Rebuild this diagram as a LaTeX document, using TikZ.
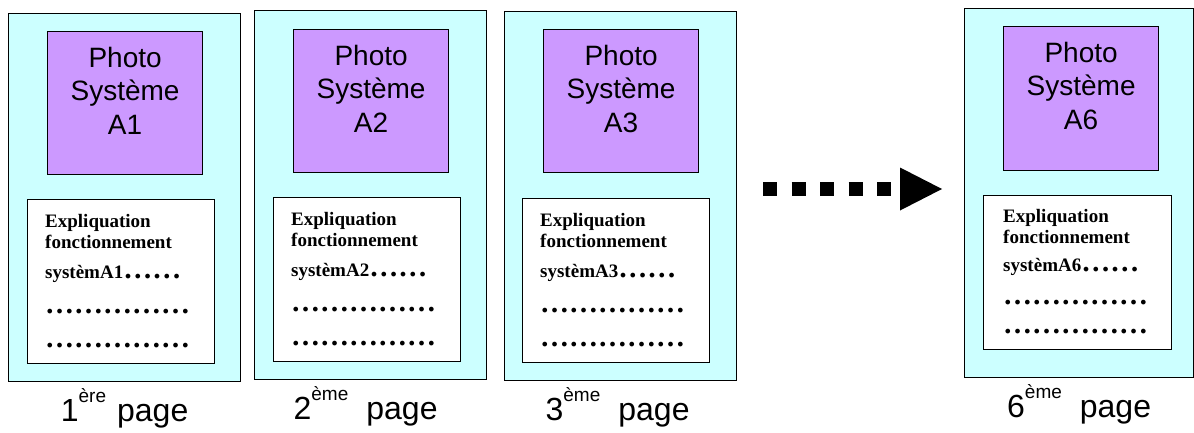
\documentclass[tikz,border=0pt]{standalone}
\usepackage{fontspec}
\setmainfont{Liberation Sans}
\newfontfamily\tnr{Liberation Serif}
\usetikzlibrary{positioning,arrows.meta}
\definecolor{pagecyan}{RGB}{204,255,255}
\definecolor{photoviolet}{RGB}{204,153,255}
\newcommand\pdots[1]{{\fontsize{29}{21}\selectfont #1}}
\newcommand\expo[1]{\raisebox{19pt}{\fontsize{19}{19}\selectfont #1}}

\begin{document}
\begin{tikzpicture}[x=1pt, y=-1pt,
  page/.style={draw, line width=1.2pt, fill=pagecyan, minimum width=232pt,
    minimum height=368pt, anchor=north west, inner sep=0pt},
  photo/.style={draw, line width=1.2pt, fill=photoviolet, minimum width=155pt,
    minimum height=143pt, anchor=north west, inner sep=0pt},
  phototext/.style={align=center, inner sep=0pt, font=\fontsize{28}{33.5}\selectfont},
  expl/.style={draw, line width=1.2pt, fill=white, minimum width=187pt,
    minimum height=164pt, anchor=north west, inner sep=0pt},
  expltext/.style={align=left, inner sep=0pt, font=\tnr\bfseries\fontsize{19}{21}\selectfont},
  pagelabel/.style={anchor=base, inner sep=0pt, font=\fontsize{32}{32}\selectfont},
  dotarrow/.style={line width=14pt, dash pattern=on 14.3pt off 14.2pt,
    -{Triangle[length=42pt,width=43pt,line width=0pt]}}]

\useasboundingbox (0,0) rectangle (1194,433);

\node[page] (p1) at (8,13) {};
\node[photo, below right=18pt and 39pt of p1.north west] (ph1) {};
\node[phototext, below=15.6pt of ph1.north] (tph1) {Photo\\Système\\A1};
\node[expl, below right=186pt and 19pt of p1.north west] (ex1) {};
\node[expltext, below right=15pt and 18pt of ex1.north west] (tex1)
  {Expliquation\\fonctionnement\\[9pt]systèmA1\pdots{……}\\[14pt]\pdots{……………}\\[13pt]\pdots{……………}};
\node[below=39pt of p1.south, pagelabel] (lab1) {1\expo{ère}\hspace{11pt}page};

\node[page, minimum height=369pt] (p2) at (254,10) {};
\node[photo, below right=19pt and 39pt of p2.north west] (ph2) {};
\node[phototext, below=15.6pt of ph2.north] (tph2) {Photo\\Système\\A2};
\node[expl, below right=187pt and 19pt of p2.north west] (ex2) {};
\node[expltext, below right=15pt and 18pt of ex2.north west] (tex2)
  {Expliquation\\fonctionnement\\[9pt]systèmA2\pdots{……}\\[14pt]\pdots{……………}\\[13pt]\pdots{……………}};
\node[below=39pt of p2.south, xshift=-5pt, pagelabel] (lab2) {2\expo{ème}\hspace{18pt}page};

\node[page, minimum height=369pt] (p3) at (504,11) {};
\node[photo, below right=18pt and 39pt of p3.north west] (ph3) {};
\node[phototext, below=15.6pt of ph3.north] (tph3) {Photo\\Système\\A3};
\node[expl, below right=187pt and 18pt of p3.north west] (ex3) {};
\node[expltext, below right=15pt and 18pt of ex3.north west] (tex3)
  {Expliquation\\fonctionnement\\[9pt]systèmA3\pdots{……}\\[14pt]\pdots{……………}\\[13pt]\pdots{……………}};
\node[below=39pt of p3.south, xshift=-3pt, pagelabel] (lab3) {3\expo{ème}\hspace{18pt}page};

\coordinate (dotS) at (763,189);
\coordinate (dotE) at (942,189);
\draw[dotarrow] (dotS) -- (dotE);

\node[page, minimum width=229pt, minimum height=369pt] (p6) at (964,8) {};
\node[photo, minimum height=144pt, below right=18pt and 39pt of p6.north west] (ph6) {};
\node[phototext, below=15.6pt of ph6.north] (tph6) {Photo\\Système\\A6};
\node[expl, minimum width=188pt, minimum height=154pt, below right=187pt and 19pt of p6.north west] (ex6) {};
\node[expltext, below right=14pt and 20pt of ex6.north west] (tex6)
  {Expliquation\\fonctionnement\\[7pt]systèmA6\pdots{……}\\[12pt]\pdots{……………}\\[8pt]\pdots{……………}};
\node[below=39pt of p6.south, pagelabel] (lab6) {6\expo{ème}\hspace{18pt}page};
\end{tikzpicture}
\end{document}
